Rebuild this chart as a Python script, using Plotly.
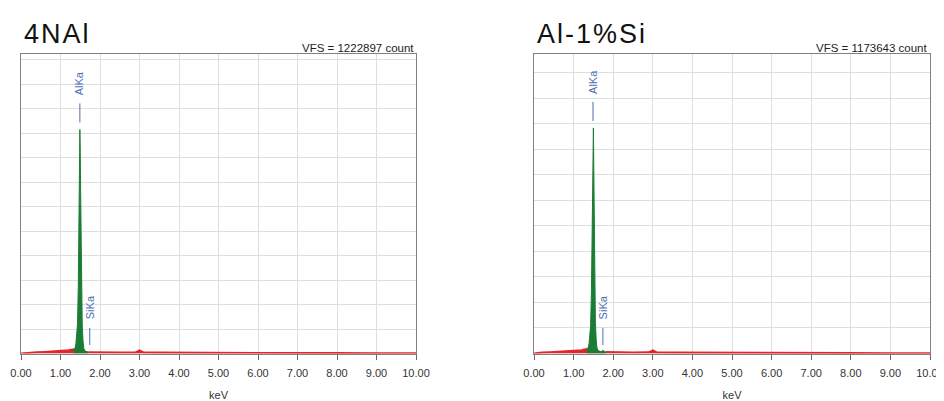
import plotly.graph_objects as go

# page is 944x401; the browser body adds an 8px margin, so the figure is 8px smaller
OFF = 8
W, H = 944 - OFF, 401 - OFF

# ---------------- data ----------------
samples = ["4NAl", "Al-1%Si"]
vfs = [1222897, 1173643]

energy_4nal = [0.00, 0.05, 0.10, 0.20, 0.40, 0.60, 0.80, 1.00, 1.20, 1.30,
               1.33, 1.37, 1.39, 1.41, 1.43, 1.45, 1.47, 1.48, 1.49, 1.50,
               1.51, 1.52, 1.53, 1.54, 1.55, 1.57, 1.59, 1.62, 1.66, 1.70,
               1.80, 2.00, 2.50, 2.90, 2.95, 3.00, 3.05, 3.10, 3.50, 4.00,
               5.00, 6.00, 7.00, 8.00, 9.00, 10.00]
counts_4nal = [0, 1000, 2500, 4000, 5500, 7000, 8500, 10500, 13500, 16500,
               18000, 22000, 40000, 70000, 120000, 270000, 580000, 780000, 915000, 820000,
               660000, 500000, 340000, 210000, 115000, 52000, 21000, 10000, 7000, 6000,
               5500, 5000, 4500, 5000, 10000, 13000, 9000, 4500, 4000, 3500,
               3000, 2500, 2200, 2000, 1800, 1500]

energy_alsi = [0.00, 0.05, 0.10, 0.20, 0.40, 0.60, 0.80, 1.00, 1.20, 1.30,
               1.33, 1.37, 1.39, 1.41, 1.43, 1.45, 1.47, 1.48, 1.49, 1.50,
               1.51, 1.52, 1.53, 1.54, 1.55, 1.57, 1.59, 1.62, 1.66, 1.70,
               1.72, 1.74, 1.76, 1.79, 1.81, 2.00, 2.50, 2.90, 2.95, 3.00,
               3.05, 3.10, 3.50, 4.00, 5.00, 6.00, 7.00, 8.00, 9.00, 10.00]
counts_alsi = [0, 1000, 2500, 4000, 5500, 7000, 8500, 10500, 13500, 17000,
               19000, 23000, 38000, 65000, 110000, 240000, 500000, 720000, 860000, 884000,
               720000, 540000, 370000, 225000, 122000, 56000, 22000, 11000, 8000, 7000,
               9000, 13000, 10000, 7000, 6000, 5000, 4500, 5000, 10000, 13000,
               9000, 4500, 4000, 3500, 3000, 2500, 2200, 2000, 1800, 1500]

roi_al = [(1.33, 1.70), (1.33, 1.81)]      # green ROI (keV)
line_al = 1.49                              # AlKa line energy (keV)
line_si = 1.74                              # SiKa line energy (keV)
x_ticks = [0, 1, 2, 3, 4, 5, 6, 7, 8, 9, 10]
x_tick_text = ["0.00", "1.00", "2.00", "3.00", "4.00", "5.00",
               "6.00", "7.00", "8.00", "9.00", "10.00"]

spectra = [(energy_4nal, counts_4nal), (energy_alsi, counts_alsi)]

# ---------------- layout geometry (page pixels minus body offset) ----------------
def px_x(p):
    return (p - OFF) / W

def px_y(p):
    return 1 - (p - OFF) / H

x_dom = [[px_x(21), px_x(416)], [px_x(534), px_x(930)]]
y_top_px, y_bot_px = 54.0, 353.5
y_dom = [px_y(y_bot_px), px_y(y_top_px)]
plot_h_px = y_bot_px - y_top_px

RED = "#e3262b"
GREEN = "#1b7d35"
BLUE = "#4a6db3"
FONT = "Liberation Sans, Arial, sans-serif"

fig = go.Figure()
annotations = []
shapes = []

for i, ((E, C), roi) in enumerate(zip(spectra, roi_al)):
    xa = "x" if i == 0 else "x2"
    ya = "y" if i == 0 else "y2"
    lo, hi = roi
    # red background spectrum (outside ROI)
    rx, ry = [], []
    for e, c in zip(E, C):
        if e <= lo:
            rx.append(e); ry.append(c)
    rx.append(None); ry.append(None)
    for e, c in zip(E, C):
        if e >= hi:
            rx.append(e); ry.append(c)
    fig.add_trace(go.Scatter(x=rx, y=ry, mode="lines", fill="tozeroy",
                             line=dict(color=RED, width=1.8), fillcolor=RED,
                             xaxis=xa, yaxis=ya, hoverinfo="skip", showlegend=False))
    gx = [e for e in E if lo <= e <= hi]
    gy = [c for e, c in zip(E, C) if lo <= e <= hi]
    fig.add_trace(go.Scatter(x=gx, y=gy, mode="lines", fill="tozeroy",
                             line=dict(color=GREEN, width=1), fillcolor=GREEN,
                             xaxis=xa, yaxis=ya, hoverinfo="skip", showlegend=False))

    px = vfs[i] / plot_h_px
    peak = max(C)
    xref = "x" if i == 0 else "x2"
    yref = "y" if i == 0 else "y2"
    # AlKa marker
    shapes.append(dict(type="line", xref=xref, yref=yref, x0=line_al, x1=line_al,
                       y0=peak + 7 * px, y1=peak + 26 * px,
                       line=dict(color=BLUE, width=1)))
    annotations.append(dict(text="AlKa", xref=xref, yref=yref, x=line_al,
                            y=peak + 46 * px, textangle=-90, showarrow=False,
                            xanchor="center", yanchor="middle",
                            font=dict(family=FONT, size=11, color=BLUE)))
    # SiKa marker
    shapes.append(dict(type="line", xref=xref, yref=yref, x0=line_si, x1=line_si,
                       y0=8.5 * px, y1=25.5 * px,
                       line=dict(color=BLUE, width=1)))
    annotations.append(dict(text="SiKa", xref=xref, yref=yref, x=line_si,
                            y=46 * px, textangle=-90, showarrow=False,
                            xanchor="center", yanchor="middle",
                            font=dict(family=FONT, size=11, color=BLUE)))
    # titles
    annotations.append(dict(text=f'<span style="letter-spacing:2px">{samples[i]}</span>',
                            xref="paper", yref="paper",
                            x=x_dom[i][0] + 1 / W, y=px_y(34), xanchor="left",
                            yanchor="middle", showarrow=False,
                            font=dict(family=FONT, size=27, color="#111111")))
    annotations.append(dict(text=f"VFS = {vfs[i]} count", xref="paper", yref="paper",
                            x=x_dom[i][1], y=y_dom[1], xanchor="right",
                            yanchor="bottom", yshift=-2, showarrow=False,
                            font=dict(family=FONT, size=11.5, color="#222222")))

axis_common_x = dict(range=[0, 10], tickvals=x_ticks, ticktext=x_tick_text,
                     showgrid=True, gridcolor="#dedede", gridwidth=1,
                     showline=True, linecolor="#808080", linewidth=1, mirror=True,
                     ticks="outside", ticklen=5, tickcolor="#666666",
                     ticklabelstandoff=4,
                     tickfont=dict(family=FONT, size=11, color="#333333"),
                     zeroline=False, fixedrange=True, automargin=False,
                     title=dict(text="keV", font=dict(family=FONT, size=11, color="#333333"),
                                standoff=15))

layout = dict(width=W, height=H, margin=dict(l=0, r=0, t=0, b=0),
              paper_bgcolor="white", plot_bgcolor="white",
              annotations=annotations, shapes=shapes, showlegend=False)
for i in range(2):
    xk = "xaxis" if i == 0 else "xaxis2"
    yk = "yaxis" if i == 0 else "yaxis2"
    layout[xk] = dict(axis_common_x, domain=x_dom[i], anchor="y" if i == 0 else "y2")
    layout[yk] = dict(range=[0, vfs[i]], dtick=100000, domain=y_dom,
                      anchor="x" if i == 0 else "x2",
                      showticklabels=False, showgrid=True, gridcolor="#dedede",
                      showline=True, linecolor="#808080", linewidth=1, mirror=True,
                      ticks="", zeroline=False, fixedrange=True, automargin=False)

fig.update_layout(**layout)
fig.write_html("out.html")
